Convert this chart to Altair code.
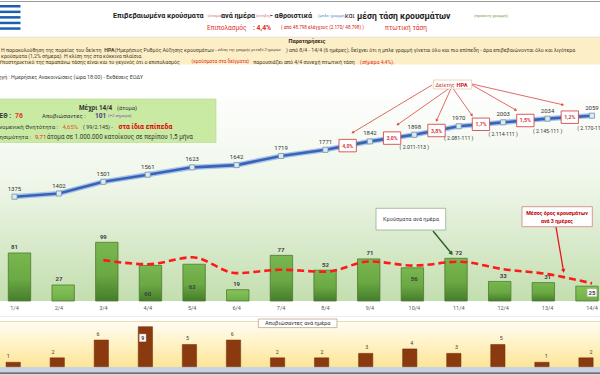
import math
import altair as alt
import pandas as pd

FONT = "Roboto"

# ---------------------------------------------------------------- data
days = ["1/4", "2/4", "3/4", "4/4", "5/4", "6/4", "7/4",
        "8/4", "9/4", "10/4", "11/4", "12/4", "13/4", "14/4"]
day_no = list(range(1, 15))
daily_cases = [81, 27, 99, 60, 62, 19, 77, 52, 71, 56, 72, 33, 31, 25]
cumulative = [1375, 1402, 1501, 1561, 1623, 1642, 1719,
              1771, 1842, 1898, 1970, 2003, 2034, 2059]
avg_3day = [None, None, 69.0, 62.0, 73.7, 47.0, 52.7,
            49.3, 66.7, 59.7, 66.3, 53.7, 45.3, 29.7]
deaths = [1, 2, 6, 9, 5, 6, 2, 2, 3, 4, 3, 5, 1, 2]

# daily growth rate (HRA index) shown between consecutive days
hra_days = ["9/4", "10/4", "11/4", "12/4", "13/4", "14/4"]
hra_rates = ["4,0%", "3,0%", "3,8%", "1,7%", "1,5%", "1,2%"]

# total reported minus excluded cases, written under the last points
total_days = ["10/4", "11/4", "12/4", "13/4", "14/4"]
total_notes = ["( 2.011-113 )", "( 2.081-111 )", "( 2.114-111 )",
               "( 2.145-111 )", "( 2.170-111 )"]

# ------------------------------------------------------------- scales
X_RANGE = [14.5, 592.0]          # centre of first / last day column
CUM_RANGE = [196.7, 115.7]
CASE_RANGE = [301.0, 242.3]
DEATH_X_RANGE = [8.2, 591.0]
DEATH_RANGE = [366.7, 326.7]

X_MAIN = alt.Scale(domain=[1, 14], range=X_RANGE, nice=False, zero=False)
X_DEATH = alt.Scale(domain=[1, 14], range=DEATH_X_RANGE, nice=False, zero=False)
Y_CUM = alt.Scale(domain=[min(cumulative), max(cumulative)], range=CUM_RANGE,
                  nice=False, zero=False)
Y_CASE = alt.Scale(domain=[0, max(daily_cases)], range=CASE_RANGE, nice=False)
Y_DEATH = alt.Scale(domain=[0, max(deaths)], range=DEATH_RANGE, nice=False)


def mx(d):
    return X_RANGE[0] + (d - 1) * (X_RANGE[1] - X_RANGE[0]) / 13


def my(v):
    lo, hi = min(cumulative), max(cumulative)
    return CUM_RANGE[0] + (v - lo) * (CUM_RANGE[1] - CUM_RANGE[0]) / (hi - lo)


df = pd.DataFrame({"day": days, "d": day_no, "cases": daily_cases,
                   "cum": cumulative, "avg": avg_3day, "deaths": deaths})

idx = {k: i for i, k in enumerate(days)}
hra = pd.DataFrame({
    "rate": hra_rates,
    "d": [day_no[idx[k]] - 0.5 for k in hra_days],
    "v": [(cumulative[idx[k] - 1] + cumulative[idx[k]]) / 2 for k in hra_days],
})
totals = pd.DataFrame({
    "note": total_notes,
    "d": [day_no[idx[k]] for k in total_days],
    "cum": [cumulative[idx[k]] for k in total_days],
})

# labels that sit inside their bar (level in bar units)
case_inside = {"4/4": 12, "5/4": 23, "10/4": 37, "14/4": 14}
case_boxed = {"14/4"}
death_inside = {"4/4": 6.5}

df["case_in"] = df["day"].map(case_inside)
df["death_in"] = df["day"].map(death_inside)

ONE = pd.DataFrame({"k": [0]})


def txt(s, x, y, size=6.0, color="#333333", weight="normal",
        align="left", style="normal"):
    return alt.Chart(ONE).mark_text(
        text=s, fontSize=size, color=color, fontWeight=weight, align=align,
        baseline="middle", fontStyle=style, font=FONT,
    ).encode(x=alt.value(x), y=alt.value(y))


# approximate advance width per character, in em
EM = {"normal": 0.515, "bold": 0.56}


def flow(x0, y, segs, gap=1.6):
    """Lay text pieces of mixed style one after another on a line."""
    out, x = [], x0
    for s, size, color, weight, style in segs:
        out.append(txt(s, x, y, size, color, weight, style=style))
        x += len(s) * size * EM[weight] + gap
    return out


def rect(x1, y1, x2, y2, fill, stroke=None, sw=0.0):
    kw = {"fill": fill}
    if stroke:
        kw.update(stroke=stroke, strokeWidth=sw)
    return alt.Chart(ONE).mark_rect(**kw).encode(
        x=alt.value(x1), x2=alt.value(x2), y=alt.value(y1), y2=alt.value(y2))


def vgrad(*stops):
    return alt.Gradient(
        gradient="linear", x1=0, x2=0, y1=0, y2=1,
        stops=[alt.GradientStop(color=c, offset=o) for o, c in stops])


BOX = "M-1,-0.72H1V0.72H-1Z"        # wide label box for point marks
layers = []

# ---------------------------------------------------------- backgrounds
layers.append(rect(0, 0, 600, 375, "#ffffff"))
layers.append(rect(0, 1, 600, 2, "#9a9a9a"))
for y0 in [5.0, 10.6, 16.1, 21.7, 27.3]:
    layers.append(rect(0, y0, 20.5, y0 + 2.5, "#1c5fb0"))
layers.append(rect(0, 37.2, 600, 64.5, "#fcefc7"))
layers.append(rect(0, 36.8, 600, 37.4, "#dcdcdc"))
layers.append(rect(0, 88, 600, 301, vgrad((0, "#ffffff"), (0.45, "#eef6e9"),
                                          (1, "#c3deae"))))
layers.append(rect(0, 316.3, 600, 317, "#e6e6e6"))
layers.append(rect(0, 321.5, 600, 367, vgrad((0, "#fffdf4"), (0.5, "#fff2c4"),
                                             (1, "#fde497"))))
layers.append(rect(0, 321.2, 600, 322, "#e3cf98"))
layers.append(rect(0, 367, 600, 372.3, "#c6d3e6"))
layers.append(rect(0, 372.3, 600, 374.2, "#707070"))

# ------------------------------------------------------------ daily bars
bar_x = alt.X("d:Q", scale=X_MAIN, axis=None)
tall = alt.datum.cases >= 30
layers.append(alt.Chart(df).transform_filter(tall).mark_bar(
    size=22.4, stroke="#4f7a33", strokeWidth=0.8,
    fill=vgrad((0, "#79b74f"), (0.55, "#6aa943"), (1, "#457d2b")),
).encode(x=bar_x, y=alt.Y("cases:Q", scale=Y_CASE, axis=None)))
layers.append(alt.Chart(df).transform_filter(~tall).mark_bar(
    size=22.4, stroke="#4f7a33", strokeWidth=0.8,
    fill=vgrad((0, "#86c45a"), (1, "#6fae47")),
).encode(x=bar_x, y=alt.Y("cases:Q", scale=Y_CASE, axis=None)))

# bar value labels
layers.append(alt.Chart(df).transform_filter("!isValid(datum.case_in)").mark_text(
    dy=-5.5, fontSize=6, fontWeight="bold", color="#404040", font=FONT,
    baseline="middle",
).encode(x=bar_x, y=alt.Y("cases:Q", scale=Y_CASE, axis=None), text="cases:Q"))
boxed = df[df["day"].isin(case_boxed)]
layers.append(alt.Chart(boxed).mark_point(
    shape="M-1,-0.8H1V0.8H-1Z", size=88, filled=True, fill="white",
    stroke="#cccccc", strokeWidth=0.5, opacity=1,
).encode(x=bar_x, y=alt.Y("case_in:Q", scale=Y_CASE, axis=None)))
layers.append(alt.Chart(df).transform_filter("isValid(datum.case_in)").mark_text(
    fontSize=6, fontWeight="bold", color="#404040", font=FONT, baseline="middle",
).encode(x=bar_x, y=alt.Y("case_in:Q", scale=Y_CASE, axis=None), text="cases:Q"))

# day labels under the bars
layers.append(alt.Chart(df).mark_text(
    fontSize=5.5, color="#595959", font=FONT, baseline="middle",
).encode(x=bar_x, y=alt.value(308.3), text="day:N"))

# 3-day average (dashed red)
layers.append(alt.Chart(df).mark_line(
    color="#ff1a1a", strokeWidth=2.6, strokeDash=[7, 4], interpolate="monotone",
).encode(x=bar_x, y=alt.Y("avg:Q", scale=Y_CASE, axis=None)))

# ------------------------------------------------------ cumulative line
cum_y = alt.Y("cum:Q", scale=Y_CUM, axis=None)
layers.append(alt.Chart(df).mark_line(color="#a9c2e8", strokeWidth=5.2)
              .encode(x=bar_x, y=cum_y))
layers.append(alt.Chart(df).mark_line(color="#3864b8", strokeWidth=2.6)
              .encode(x=bar_x, y=cum_y))
layers.append(alt.Chart(df).mark_point(
    shape="square", size=26, filled=True, fill="#dde9ef", stroke="#7191b0",
    strokeWidth=0.8, opacity=1,
).encode(x=bar_x, y=cum_y))
layers.append(alt.Chart(df).mark_text(
    dy=-8, fontSize=6, color="#333333", font=FONT, baseline="middle",
).encode(x=bar_x, y=cum_y, text="cum:Q"))
layers.append(alt.Chart(totals).mark_text(
    dy=12, fontSize=5.2, color="#333333", font=FONT, baseline="middle",
).encode(x=bar_x, y=cum_y, text="note:N"))

# ------------------------------------------------ HRA arrows and boxes
arrow_from = [(432, 85), (449, 88.5), (451, 88.5), (453, 88.5), (472, 85), (472, 84)]
arrow_end_off = [(5, -13), (5.5, -13.5), (0, -10), (-9, -9), (-9.5, -10.5), (-7, -12.4)]
rows = []
for (sx, sy), (ox, oy), d, v in zip(arrow_from, arrow_end_off, hra["d"], hra["v"]):
    ex, ey = mx(d) + ox, my(v) + oy
    rows.append((sx, sy, ex, ey, "#d9453f", 0.8, 10))
rows.append((433, 231, 451.5, 253.5, "#2f5e2a", 1.4, 22))
rows.append((556, 227, 563.5, 271, "#e8141b", 1.3, 18))
arrows = pd.DataFrame(rows, columns=["x", "y", "x2", "y2", "col", "w", "hs"])
arrows["ang"] = [
    (math.degrees(math.atan2(r.x2 - r.x, -(r.y2 - r.y))) + 360) % 360
    for r in arrows.itertuples()]
layers.append(alt.Chart(arrows).mark_rule().encode(
    x=alt.X("x:Q", scale=None), y=alt.Y("y:Q", scale=None),
    x2="x2:Q", y2="y2:Q",
    color=alt.Color("col:N", scale=None),
    strokeWidth=alt.StrokeWidth("w:Q", scale=None)))
layers.append(alt.Chart(arrows).mark_point(
    shape="triangle-up", filled=True, opacity=1,
).encode(
    x=alt.X("x2:Q", scale=None), y=alt.Y("y2:Q", scale=None),
    angle=alt.Angle("ang:Q", scale=None),
    size=alt.Size("hs:Q", scale=None),
    color=alt.Color("col:N", scale=None)))

hra_x = alt.X("d:Q", scale=X_MAIN, axis=None)
hra_y = alt.Y("v:Q", scale=Y_CUM, axis=None)
layers.append(alt.Chart(hra).mark_point(
    shape=BOX, size=300, filled=True, fill="white", stroke="#d8474a",
    strokeWidth=0.9, opacity=1,
).encode(x=hra_x, y=hra_y))
layers.append(alt.Chart(hra).mark_text(
    fontSize=5.2, fontWeight="bold", color="#d23a3c", font=FONT, baseline="middle",
).encode(x=hra_x, y=hra_y, text="rate:N"))

layers.append(rect(433.3, 80, 471.7, 89, "white", "#e2c9a8", 0.8))
layers.append(txt("Δείκτης", 435.5, 84.6, 5.1, "#c0392b"))
layers.append(txt("ΗΡΑ", 456.5, 84.6, 5.8, "#d3201f", "bold"))

# -------------------------------------------------- callout boxes
layers.append(rect(376, 208.3, 445.7, 230, "white", "#9aab92", 0.8))
layers.append(txt("Κρούσματα ανά ημέρα", 411, 219.3, 5.6, "#404040", align="center"))
layers.append(rect(522, 206.7, 592.3, 226.7, "white", "#d98a8a", 0.9))
layers.append(txt("Μέσος όρος κρουσμάτων", 557, 213.3, 5.3, "#c00000", "bold", "center"))
layers.append(txt("ανά 3 ημέρες", 557, 220.6, 5.3, "#c00000", "bold", "center"))

# ---------------------------------------------------------- deaths panel
dx = alt.X("d:Q", scale=X_DEATH, axis=None)
dy_ = alt.Y("deaths:Q", scale=Y_DEATH, axis=None)
layers.append(alt.Chart(df).mark_bar(
    size=14.3, color="#8a3a0e", stroke="#6e2c08", strokeWidth=0.5,
).encode(x=dx, y=dy_))
layers.append(alt.Chart(df).transform_filter("!isValid(datum.death_in)").mark_text(
    dy=-6, fontSize=5.3, color="#404040", font=FONT, baseline="middle",
).encode(x=dx, y=dy_, text="deaths:Q"))
d_in_y = alt.Y("death_in:Q", scale=Y_DEATH, axis=None)
layers.append(alt.Chart(df).transform_filter("isValid(datum.death_in)").mark_point(
    shape="M-0.87,-1H0.87V1H-0.87Z", size=55, filled=True, fill="white",
    opacity=1, stroke="#dddddd", strokeWidth=0.4,
).encode(x=dx, y=d_in_y))
layers.append(alt.Chart(df).transform_filter("isValid(datum.death_in)").mark_text(
    fontSize=5.3, fontWeight="bold", color="#404040", font=FONT, baseline="middle",
).encode(x=dx, y=d_in_y, text="deaths:Q"))
layers.append(rect(258.3, 319, 337, 327.6, "white", "#b39a7a", 0.7))
layers.append(txt("Αποβιώσαντες ανά ημέρα", 297.6, 323.4, 5.6, "#333333", align="center"))

# ------------------------------------------------------------ header
T = 16.2
layers += [
    txt("Επιβεβαιωμένα κρούσματα", 113, T, 7.2, "#222222", "bold"),
    txt("(άτομα)", 207.5, T, 4.3, "#c27a7a"),
    txt("ανά ημέρα", 221, T, 7.2, "#222222", "bold"),
    txt("(στήλη)", 256, T, 4.3, "#c27a7a"),
    txt("- αθροιστικά", 270, T, 7.2, "#222222", "bold"),
    txt("(μπλε γραμμή)", 318, T, 4.3, "#4b8fd0"),
    txt("και", 345, T, 6.6, "#222222"),
    txt("μέση τάση κρουσμάτων", 357, T, 8.6, "#222222", "bold"),
    txt("(πράσινη γραμμή)", 474, T, 4.3, "#6fa043"),
]
S = 28.2
layers += [
    txt("Επιπολασμός", 207, S, 6.6, "#e0302a"),
    txt(": 4,4%", 253, S, 6.8, "#e0302a", "bold"),
    txt("( από 48.798 ελέγχους (2.170/ 48.798) )", 281, S, 4.6, "#d42020"),
    txt("πτωτική τάση", 385, S, 6.6, "#e0302a"),
]

# ------------------------------------------------------------- notes
NC = "#4a3d28"
RED = "#e0302a"
N = 5.2
layers.append(txt("Παρατηρήσεις", 307, 41.3, 5.6, "#2e2414", "bold", "center"))
layers += flow(1, 50.3, [
    ("Η παρακολούθηση της πορείας του δείκτη", N, NC, "normal", "normal"),
    ("ΗΡΑ", N, NC, "bold", "normal"),
    ("(Ημερήσιος Ρυθμός Αύξησης κρουσμάτων -", N, NC, "normal", "normal"),
    ("κλίση της γραμμής μεταξύ 2 ημερών", 3.9, NC, "normal", "italic"),
    (") από 8/4 - 14/4 (6 ημέρες), δείχνει ότι η μπλε γραμμή γίνεται όλο και "
     "πιο επίπεδη - άρα επιβεβαιώνονται όλο και λιγότερα", N, NC, "normal", "normal"),
])
layers += flow(1, 56.4, [
    ("κρούσματα (1,2% σήμερα). Η κλίση της στα κόκκινα πλαίσια.", N, NC,
     "normal", "normal"),
])
layers += flow(-1, 62.4, [
    ("Υποστηρικτικό της παραπάνω τάσης είναι και το γεγονός ότι ο επιπολασμός",
     N, NC, "normal", "normal"),
    ("(κρούσματα στα δείγματα)", 4.8, RED, "normal", "normal"),
    ("παρουσιάζει από 4/4 συνεχή πτωτική τάση", N, NC, "normal", "normal"),
    ("(σήμερα 4,4%).", N, RED, "normal", "normal"),
], gap=2.4)
layers.append(txt("Πηγή : Ημερήσιες Ανακοινώσεις (ώρα 18:00) - Εκθέσεις ΕΟΔΥ",
                  143, 77.3, 5.3, "#404040", align="right"))

# --------------------------------------------------------- summary box
layers.append(rect(-2, 99, 216, 142.5, "#c9eaa3", "#b5d98d", 0.6))
layers += [
    txt("Μέχρι 14/4", 79, 107.6, 6.4, "#333333", "bold"),
    txt("(άτομα)", 117, 107.6, 5.8, "#333333"),
    txt("Σε ΜΕΘ :", 11, 116.3, 6.4, "#333333", "bold", "right"),
    txt("76", 15, 116.3, 6.8, "#e02a1a", "bold"),
    txt("Αποβιώσαντες :", 42, 116.3, 6.0, "#333333"),
    txt("101", 95, 116.3, 6.6, "#4b3a86", "bold"),
    txt("(+2 σήμερα)", 108, 116.3, 4.3, "#7b4aa8"),
    txt("Φαινομενική Θνητότητα :", 58, 127, 6.0, "#333333", align="right"),
    txt("4,65%", 62.5, 127, 6.0, "#e2561e"),
    txt("( 99/2.145) -", 83, 127, 5.4, "#333333"),
    txt("στα ίδια επίπεδα", 118.5, 127, 6.9, "#e00000", "bold"),
    txt("Θνησιμότητα :", 31, 137, 6.0, "#333333", align="right"),
    txt("9,71", 35, 137, 6.0, "#e02a1a"),
    txt("άτομα σε 1.000.000 κατοίκους σε περίπου 1,5 μήνα", 47, 137, 6.3, "#333333"),
]

chart = alt.layer(*layers).resolve_scale(
    x="independent", y="independent"
).properties(
    width=600, height=375, padding=0,
    autosize=alt.AutoSizeParams(type="none"),
    background="white",
).configure_view(stroke=None)

chart.save("out.html", embed_options={"renderer": "svg", "actions": False})
